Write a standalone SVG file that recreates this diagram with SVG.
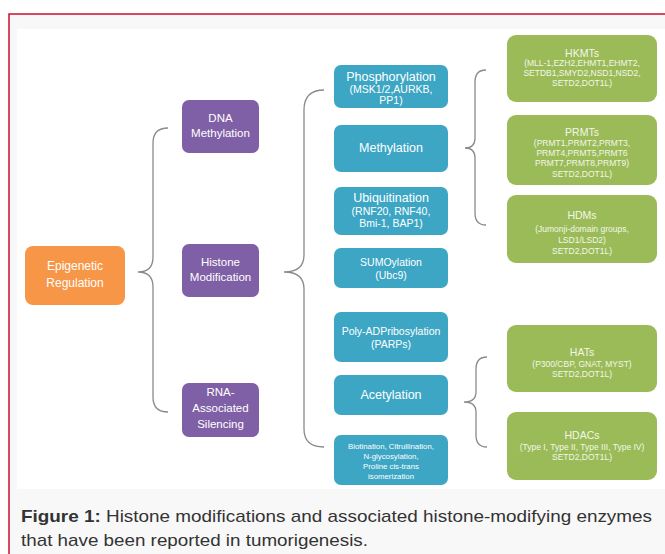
<svg xmlns="http://www.w3.org/2000/svg" width="665" height="554" viewBox="0 0 665 554">
<style>
text{font-family:"Liberation Sans",Arial,sans-serif;text-anchor:middle;}
.or{fill:#F79646;}
.pu{fill:#7F5FA5;}
.bl{fill:#3DA6C4;}
.gr{fill:#9BBB59;}
.w{fill:#ffffff;}
.g{fill:#F2F7E6;}
.gs{fill:#F2F7E6;font-size:8.5px;}
.gt{fill:#F2F7E6;font-size:10.5px;}
.brace{fill:none;stroke:#8a8a8a;stroke-width:1.3;}
.cap{text-anchor:start;font-size:17px;fill:#333333;}
</style>
<rect x="0" y="0" width="665" height="554" fill="#ffffff"/>
<rect x="9" y="14" width="660" height="545" fill="#f8f8f8" stroke="#c8102e" stroke-width="1.5"/>
<rect x="17" y="29" width="648" height="460" fill="#ffffff"/>

<g id="connectors">
<path class="brace" d="M168,128 Q153,128 153,143 L153,257 Q153,272 138,272 Q153,272 153,287 L153,397 Q153,412 168,412"/>
<path class="brace" d="M324,90 Q304,90 304,110 L304,255 Q304,272 284,272 Q304,272 304,289 L304,429 Q304,447 324,447"/>
<path class="brace" d="M486,70 Q475,70 475,82 L475,138 Q475,148 465,148 Q475,148 475,158 L475,213 Q475,225 486,225"/>
<path class="brace" d="M487,357 Q476,357 476,369 L476,392 Q476,402 464,402 Q476,402 476,412 L476,435 Q476,447 487,447"/>
</g>

<g id="epigenetic">
<rect class="or" x="25" y="246" width="100" height="59" rx="8"/>
<text class="w" x="75" y="270" font-size="12">Epigenetic</text>
<text class="w" x="75" y="287" font-size="12">Regulation</text>
</g>

<g id="dna">
<rect class="pu" x="182" y="100" width="77" height="53" rx="7"/>
<text class="w" x="220.5" y="122" font-size="11.5">DNA</text>
<text class="w" x="220.5" y="137" font-size="11.5">Methylation</text>
</g>
<g id="histone">
<rect class="pu" x="182" y="244" width="77" height="53" rx="7"/>
<text class="w" x="220.5" y="266" font-size="11.5">Histone</text>
<text class="w" x="220.5" y="281" font-size="11.5">Modification</text>
</g>
<g id="rna">
<rect class="pu" x="182" y="383" width="77" height="54" rx="7"/>
<text class="w" x="220.5" y="396" font-size="11.5">RNA-</text>
<text class="w" x="220.5" y="412" font-size="11.5">Associated</text>
<text class="w" x="220.5" y="428" font-size="11.5">Silencing</text>
</g>

<g id="phosphorylation">
<rect class="bl" x="334" y="65" width="114" height="43" rx="7"/>
<text class="w" x="391" y="81" font-size="12.5">Phosphorylation</text>
<text class="w" x="391" y="93" font-size="10.5">(MSK1/2,AURKB,</text>
<text class="w" x="391" y="104" font-size="10.5">PP1)</text>
</g>
<g id="methylation">
<rect class="bl" x="334" y="125" width="114" height="47" rx="7"/>
<text class="w" x="391" y="152" font-size="12.5">Methylation</text>
</g>
<g id="ubiquitination">
<rect class="bl" x="334" y="187" width="114" height="48" rx="7"/>
<text class="w" x="391" y="202" font-size="12.5">Ubiquitination</text>
<text class="w" x="391" y="215" font-size="10.5">(RNF20, RNF40,</text>
<text class="w" x="391" y="227" font-size="10.5">Bmi-1, BAP1)</text>
</g>
<g id="sumoylation">
<rect class="bl" x="334" y="248" width="114" height="40" rx="7"/>
<text class="w" x="391" y="266" font-size="10.5">SUMOylation</text>
<text class="w" x="391" y="279" font-size="10.5">(Ubc9)</text>
</g>
<g id="polyadp">
<rect class="bl" x="334" y="312" width="114" height="50" rx="7"/>
<text class="w" x="391" y="335" font-size="10.5">Poly-ADPribosylation</text>
<text class="w" x="391" y="348" font-size="10.5">(PARPs)</text>
</g>
<g id="acetylation">
<rect class="bl" x="334" y="375" width="114" height="40" rx="7"/>
<text class="w" x="391" y="399" font-size="12.5">Acetylation</text>
</g>
<g id="biotination">
<rect class="bl" x="334" y="435" width="114" height="50" rx="7"/>
<text class="w" x="391" y="449" font-size="7.8">Biotination, Citrullination,</text>
<text class="w" x="391" y="459" font-size="7.8">N-glycosylation,</text>
<text class="w" x="391" y="469" font-size="7.8">Proline cis-trans</text>
<text class="w" x="391" y="479" font-size="7.8">isomerization</text>
</g>

<g id="hkmts">
<rect class="gr" x="507" y="35" width="150" height="67" rx="9"/>
<text class="gt" x="582" y="57">HKMTs</text>
<text class="gs" x="582" y="66">(MLL-1,EZH2,EHMT1,EHMT2,</text>
<text class="gs" x="582" y="76">SETDB1,SMYD2,NSD1,NSD2,</text>
<text class="gs" x="582" y="86">SETD2,DOT1L)</text>
</g>
<g id="prmts">
<rect class="gr" x="507" y="115" width="150" height="70" rx="9"/>
<text class="gt" x="582" y="136">PRMTs</text>
<text class="gs" x="582" y="146">(PRMT1,PRMT2,PRMT3,</text>
<text class="gs" x="582" y="156">PRMT4,PRMT5,PRMT6</text>
<text class="gs" x="582" y="166">PRMT7,PRMT8,PRMT9)</text>
<text class="gs" x="582" y="177">SETD2,DOT1L)</text>
</g>
<g id="hdms">
<rect class="gr" x="507" y="195" width="150" height="68" rx="9"/>
<text class="gt" x="582" y="219">HDMs</text>
<text class="gs" x="582" y="232">(Jumonji-domain  groups,</text>
<text class="gs" x="582" y="243">LSD1/LSD2)</text>
<text class="gs" x="582" y="254">SETD2,DOT1L)</text>
</g>
<g id="hats">
<rect class="gr" x="507" y="325" width="150" height="67" rx="9"/>
<text class="gt" x="582" y="356">HATs</text>
<text class="gs" x="582" y="367">(P300/CBP,  GNAT,  MYST)</text>
<text class="gs" x="582" y="377">SETD2,DOT1L)</text>
</g>
<g id="hdacs">
<rect class="gr" x="507" y="412" width="150" height="68" rx="9"/>
<text class="gt" x="582" y="439">HDACs</text>
<text class="gs" x="582" y="450">(Type I, Type II, Type III, Type  IV)</text>
<text class="gs" x="582" y="460">SETD2,DOT1L)</text>
</g>

<g id="caption">
<text class="cap" x="21" y="522" textLength="631" lengthAdjust="spacingAndGlyphs"><tspan font-weight="bold">Figure 1:</tspan> Histone modifications and associated histone-modifying enzymes</text>
<text class="cap" x="21" y="546" textLength="347" lengthAdjust="spacingAndGlyphs">that have been reported in tumorigenesis.</text>
</g>
</svg>
